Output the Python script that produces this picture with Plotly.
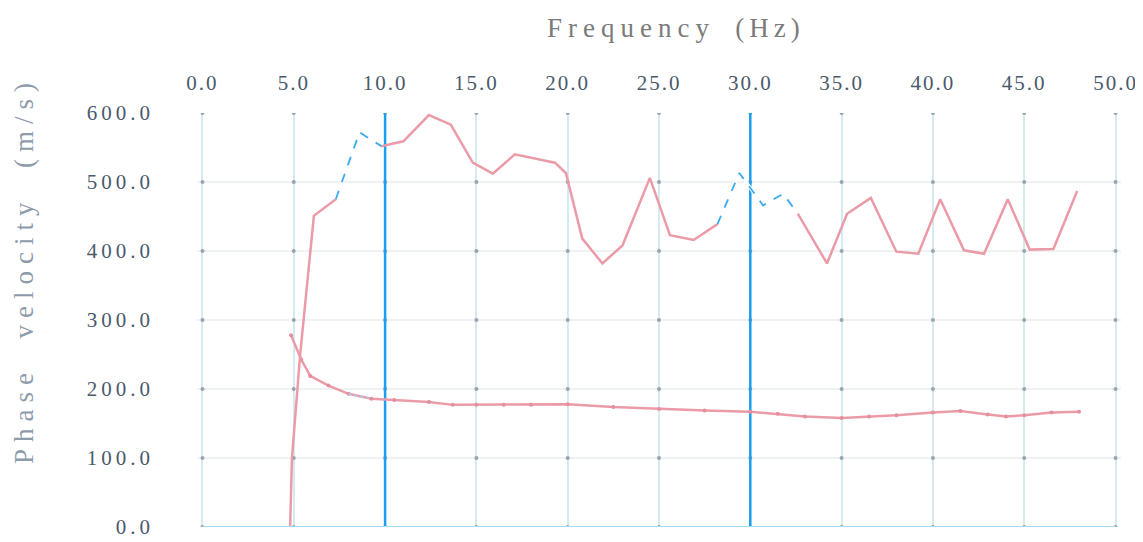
import plotly.graph_objects as go

# ---- data ----
x_ticks = [0, 5, 10, 15, 20, 25, 30, 35, 40, 45, 50]
y_ticks = [0, 100, 200, 300, 400, 500, 600]

freq_upper = [4.8, 4.9, 5.35, 6.1, 7.3, 8.6, 9.8, 11.0, 12.4, 13.6, 14.8, 15.9, 17.1, 19.3, 19.9,
              20.8, 21.9, 23.0, 24.5, 25.6, 26.9, 28.2, 29.4, 30.7, 31.8, 32.6, 34.2, 35.3, 36.6,
              38.0, 39.2, 40.4, 41.7, 42.8, 44.1, 45.3, 46.6, 47.9]
vel_upper = [0, 100, 250, 451, 475, 572, 552, 559, 597, 583, 528, 512, 540, 528, 513,
             418, 382, 408, 506, 423, 416, 439, 513, 466, 483, 454, 382, 454, 477,
             399, 396, 475, 401, 396, 475, 402, 403, 487]

freq_lower = [4.85, 5.4, 5.9, 6.9, 8.0, 9.25, 10.5, 12.4, 13.7, 15, 16.5, 18, 20, 22.5, 25,
              27.5, 30, 31.5, 33, 35, 36.5, 38, 40, 41.5, 43, 44, 45, 46.5, 48]
vel_lower = [278, 243, 219, 205, 193, 186, 184, 181, 177, 177, 177, 177, 178, 174, 171,
             169, 167, 164, 160, 158, 160, 162, 166, 168, 163, 160, 162, 166, 167]

# highlighted (scan) segments
hl1 = (7.3, 9.8)
hl2 = (28.2, 32.6)
blue_lines = [10, 30]

RED = "#eb9ba8"
BLUE = "#1b9ff0"
TICK = "#4a5a6b"

# page body has an 8px margin; layout numbers are in figure pixels
L, R, T, B = 189, 30, 105, 23
W, H = 1143, 542
PW, PH = W - L - R, H - T - B


def spaced(t, px):
    return f'<span style="letter-spacing:{px}px">{t}</span>'


fig = go.Figure()

# grid intersection dots
gx = [x for x in x_ticks for y in y_ticks]
gy = [y for x in x_ticks for y in y_ticks]
fig.add_trace(go.Scatter(x=gx, y=gy, mode="markers",
                         marker=dict(size=4, color="#97a5b0"), hoverinfo="skip"))

# strong blue vertical lines
for bx in blue_lines:
    fig.add_trace(go.Scatter(x=[bx, bx], y=[0, 600], mode="lines",
                             line=dict(color=BLUE, width=2.5), hoverinfo="skip"))

fig.add_trace(go.Scatter(x=freq_lower, y=vel_lower, mode="lines+markers",
                         line=dict(color=RED, width=2.5),
                         marker=dict(size=4, color="#e58e9c")))
fig.add_trace(go.Scatter(x=freq_upper, y=vel_upper, mode="lines",
                         line=dict(color=RED, width=2.5)))

# blue dashed overlay on highlighted parts (scan marks)
for lo, hi in (hl1, hl2):
    xs = [f for f in freq_upper if lo <= f <= hi]
    ys = [v for f, v in zip(freq_upper, vel_upper) if lo <= f <= hi]
    fig.add_trace(go.Scatter(x=xs, y=ys, mode="lines",
                             line=dict(color="white", width=3.5), hoverinfo="skip"))
    fig.add_trace(go.Scatter(x=xs, y=ys, mode="lines",
                             line=dict(color="#3aaaf0", width=1.8, dash="dash"), hoverinfo="skip"))
xs = [f for f in freq_lower if hl1[0] <= f <= 10]
ys = [v for f, v in zip(freq_lower, vel_lower) if hl1[0] <= f <= 10]
fig.add_trace(go.Scatter(x=xs, y=ys, mode="lines",
                         line=dict(color="#9fd2f2", width=1.5, dash="dot"), hoverinfo="skip"))

fig.update_layout(
    width=W, height=H,
    margin=dict(l=L, r=R, t=T, b=B),
    paper_bgcolor="white", plot_bgcolor="white",
    showlegend=False,
    font=dict(family="Liberation Serif", color=TICK),
    xaxis=dict(side="top", range=[-0.3, 50.3], tickvals=x_ticks,
               ticktext=[spaced(f"{v:.1f}", 2) for v in x_ticks],
               showgrid=True, gridcolor="#d3ebf1", gridwidth=2,
               zeroline=False, showline=False, ticks="", automargin=False,
               tickfont=dict(size=21, color=TICK), ticklabelstandoff=18),
    yaxis=dict(range=[0, 600], tickvals=y_ticks,
               ticktext=[spaced(f"{v:.1f}", 4) for v in y_ticks],
               showgrid=True, gridcolor="#eef2f3", gridwidth=2,
               zeroline=False, showline=False, ticks="", automargin=False,
               tickfont=dict(size=21, color=TICK), ticklabelstandoff=42),
    annotations=[
        dict(text=spaced("Frequency", 6) + "   " + spaced("(Hz)", 5),
             xref="paper", yref="paper", x=(668 - L) / PW, y=1.0,
             yshift=102, showarrow=False, font=dict(size=27, color="#7b7b7b")),
        dict(text=spaced("Phase  velocity  (m/s)", 7), xref="paper", yref="paper",
             x=0, y=(H - B - 262) / PH,
             xshift=-190, textangle=-90, showarrow=False,
             font=dict(size=27, color="#8e9bab")),
    ],
    shapes=[
        dict(type="line", xref="x", yref="y", x0=0, x1=50, y0=0, y1=0,
             line=dict(color="#a6d9f3", width=2)),
    ],
)

fig.write_html("out.html")
